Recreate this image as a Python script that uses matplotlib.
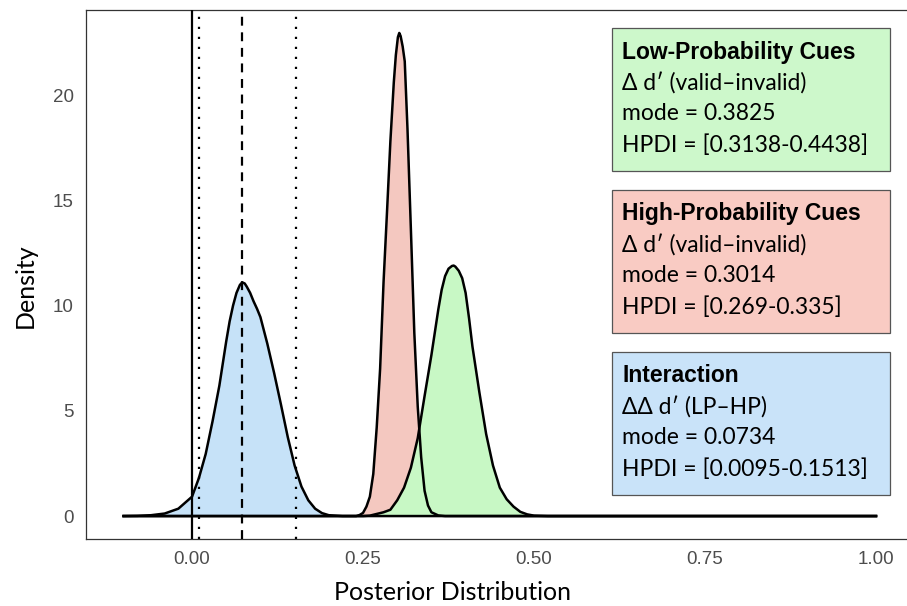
import numpy as np
import matplotlib
matplotlib.use("Agg")
import matplotlib.pyplot as plt

plt.rcParams['font.family'] = ['Lato', 'DejaVu Sans']

# density estimates (x, density)
inter_x = [-0.10, -0.08, -0.06, -0.04, -0.02, 0.00, 0.01, 0.02, 0.03, 0.04, 0.05,
           0.055, 0.06, 0.065, 0.07, 0.0734, 0.077, 0.08, 0.085, 0.09, 0.095,
           0.10, 0.11, 0.12, 0.13, 0.14, 0.15, 0.16, 0.17, 0.18, 0.19, 0.20,
           0.22, 1.00]
inter_y = [0.0, 0.01, 0.04, 0.12, 0.35, 0.92, 1.8, 2.95, 4.5, 6.2, 8.3,
           9.25, 10.0, 10.6, 10.98, 11.1, 11.05, 10.9, 10.6, 10.2, 9.85,
           9.45, 8.2, 6.8, 5.3, 3.75, 2.4, 1.4, 0.75, 0.35, 0.14, 0.04,
           0.0, 0.0]

hp_x = [-0.10, 0.24, 0.245, 0.25, 0.255, 0.26, 0.265, 0.27, 0.275, 0.28, 0.285,
        0.29, 0.295, 0.298, 0.301, 0.303, 0.305, 0.308, 0.311, 0.315, 0.32,
        0.325, 0.33, 0.335, 0.34, 0.345, 0.35, 0.36, 0.37, 1.00]
hp_y = [0.0, 0.0, 0.05, 0.15, 0.45, 0.92, 2.0, 4.2, 7.0, 11.1, 14.4,
        17.8, 20.6, 21.9, 22.75, 22.95, 22.8, 22.3, 21.6, 18.4, 13.6,
        8.7, 5.2, 2.8, 1.2, 0.5, 0.18, 0.03, 0.0, 0.0]

lp_x = [-0.10, 0.25, 0.26, 0.27, 0.28, 0.29, 0.30, 0.31, 0.32, 0.33, 0.34, 0.35,
        0.36, 0.365, 0.37, 0.375, 0.38, 0.3825, 0.385, 0.39, 0.395, 0.40,
        0.405, 0.41, 0.42, 0.43, 0.44, 0.45, 0.46, 0.47, 0.48, 0.49, 0.50,
        0.52, 1.00]
lp_y = [0.0, 0.0, 0.02, 0.1, 0.18, 0.3, 0.75, 1.35, 2.3, 3.7, 5.7, 7.65,
        9.8, 10.75, 11.4, 11.75, 11.88, 11.9, 11.85, 11.65, 11.3, 10.6,
        9.4, 8.05, 5.9, 3.9, 2.4, 1.35, 0.8, 0.45, 0.2, 0.08, 0.02,
        0.0, 0.0]

# interaction summary
inter_mode = 0.0734
inter_hpdi = [0.0095, 0.1513]

x_ticks = [0.00, 0.25, 0.50, 0.75, 1.00]
y_ticks = [0, 5, 10, 15, 20]

box_lines = [
    ("Low-Probability Cues", ["\u0394 d\u2032 (valid\u2013invalid)", "mode = 0.3825",
                              "HPDI = [0.3138-0.4438]"]),
    ("High-Probability Cues", ["\u0394 d\u2032 (valid\u2013invalid)", "mode = 0.3014",
                               "HPDI = [0.269-0.335]"]),
    ("Interaction", ["\u0394\u0394 d\u2032 (LP\u2013HP)", "mode = 0.0734",
                     "HPDI = [0.0095-0.1513]"]),
]
box_fill = ["#cdf8cb", "#f9cbc3", "#c9e3f9"]
curve_fill = ["#c6e2f8", "#f4c8c0", "#c8f8c5"]

fig = plt.figure(figsize=(9.07, 6.06), dpi=100)
ax = fig.add_axes([86 / 907, 1 - 539 / 606, 821 / 907, 529 / 606])

curves = [(inter_x, inter_y), (hp_x, hp_y), (lp_x, lp_y)]
for (cx, cy), fc in zip(curves, curve_fill):
    ax.fill_between(cx, cy, 0, color=fc, lw=0, zorder=2)
    ax.plot(cx, cy, color="black", lw=1.8, zorder=3, solid_joinstyle="round")

ax.axvline(0, color="black", lw=1.6, zorder=4)
ax.axvline(inter_mode, color="black", lw=1.6, ls=(0, (4, 3)), zorder=4)
for h in inter_hpdi:
    ax.axvline(h, color="black", lw=1.6, ls=(0, (1, 3.5)), zorder=4)

ax.set_xlim(-0.155, 1.0453)
ax.set_ylim(-1.09, 24.04)
ax.set_xticks(x_ticks)
ax.set_xticklabels(["%.2f" % v for v in x_ticks])
ax.set_yticks(y_ticks)
ax.tick_params(length=0, labelsize=13.5, labelcolor="#4d4d4d", pad=9)
for lab in ax.get_xticklabels() + ax.get_yticklabels():
    lab.set_family("Liberation Sans")
for s in ["left", "top", "bottom"]:
    ax.spines[s].set_color("#333333")
    ax.spines[s].set_linewidth(0.9)
ax.spines["right"].set_visible(False)

fig.text(452 / 907, 1 - 593 / 606, "Posterior Distribution", fontsize=18,
         ha="center", va="center")
fig.text(25 / 907, 1 - 286 / 606, "Density", fontsize=18, rotation=90,
         ha="center", va="center")

# text boxes, pixel tops of each box
box_tops = [28, 190, 352]
for (title, lines), fc, top in zip(box_lines, box_fill, box_tops):
    rect = plt.Rectangle((612 / 907, 1 - (top + 143) / 606), 278 / 907, 143 / 606,
                         transform=fig.transFigure, facecolor=fc,
                         edgecolor="#555555", lw=0.9, zorder=5)
    fig.add_artist(rect)
    fig.text(622 / 907, 1 - (top + 24) / 606, title, fontsize=16.5,
             fontweight="bold", family=["Liberation Sans", "DejaVu Sans"],
             va="center", ha="left", zorder=6)
    for i, ln in enumerate(lines):
        fig.text(622 / 907, 1 - (top + 55 + 31 * i) / 606, ln, fontsize=16.5,
                 va="center", ha="left", zorder=6)

fig.savefig("out.png", dpi=100)
